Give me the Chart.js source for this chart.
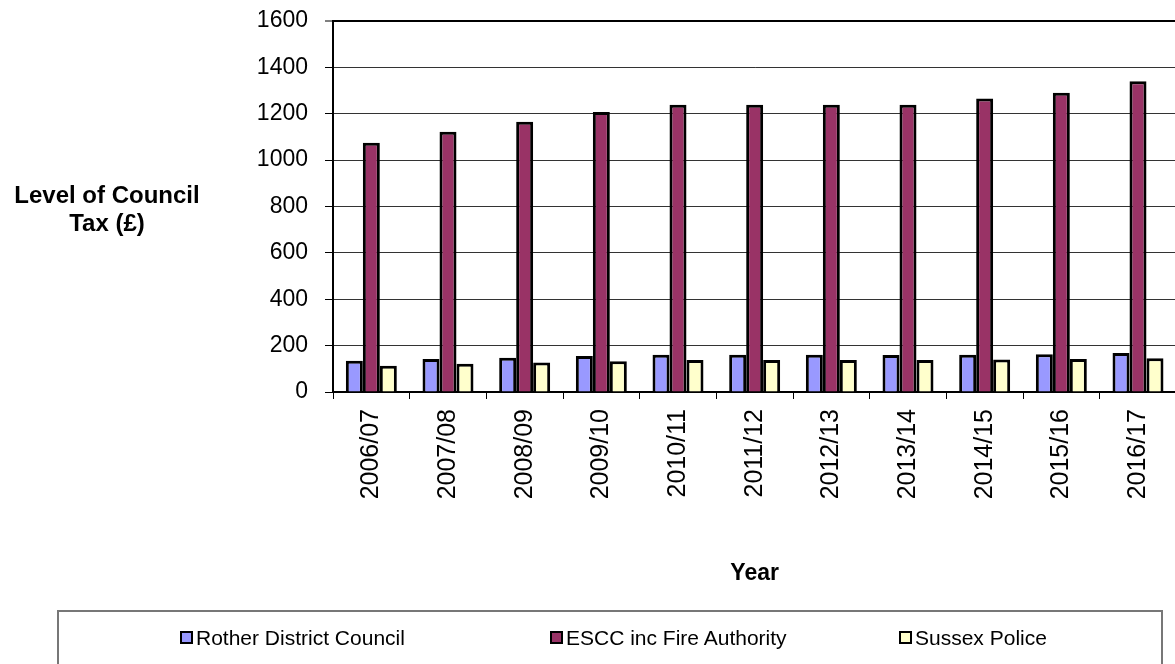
<!DOCTYPE html>
<html>
<head>
<meta charset="utf-8">
<script src="https://cdn.jsdelivr.net/npm/chart.js@4/dist/chart.umd.min.js"></script>
<style>
  body { margin: 0; background: #fff; font-family: Arial, "Liberation Sans", sans-serif; }
  #wrap { position: relative; width: 1175px; height: 664px; overflow: hidden; }
  #grafico { position: absolute; left: 0; top: -10px; }
  #tituloY { position: absolute; left: 0; top: 181px; width: 214px; text-align: center;
    font-weight: bold; font-size: 24px; line-height: 28px; color: #000; }
  #leyenda { position: absolute; left: 57px; top: 610px; width: 1106px; height: 80px;
    border: 2px solid #777; box-sizing: border-box; }
  .item { position: absolute; top: 14px; font-size: 21px; line-height: 24px; color: #000; white-space: nowrap; }
  .item span { display: inline-block; width: 9px; height: 9px; border: 2px solid #000;
    margin-right: 3px; vertical-align: 1px; }
</style>
</head>
<body>
<div id="wrap">
  <canvas id="grafico" width="1178" height="674"></canvas>
  <div id="tituloY">Level of Council<br>Tax (£)</div>
  <div id="leyenda"></div>
</div>
<script>
const años = ["2006/07", "2007/08", "2008/09", "2009/10", "2010/11", "2011/12",
  "2012/13", "2013/14", "2014/15", "2015/16", "2016/17"];
const rother = [135, 142, 148, 155, 161, 161, 161, 160, 161, 163, 168];
const escc = [1074, 1122, 1165, 1207, 1238, 1238, 1238, 1238, 1265, 1290, 1339];
const sussex = [113, 122, 127, 133, 138, 138, 138, 138, 140, 142, 146];
const ticksY = [0, 200, 400, 600, 800, 1000, 1200, 1400, 1600];

const series = [
  { label: "Rother District Council", data: rother, color: "#9999FF", x: 121 },
  { label: "ESCC inc Fire Authority", data: escc, color: "#993366", x: 491 },
  { label: "Sussex Police", data: sussex, color: "#FFFFCC", x: 840 },
];

// leyenda en html
let leyenda = "";
series.forEach((s) => {
  leyenda += `<div class="item" style="left:${s.x}px"><span style="background:${s.color}"></span>${s.label}</div>`;
});
document.getElementById("leyenda").innerHTML = leyenda;

const fuente = "Arial, 'Liberation Sans', sans-serif";

const ctx = document.getElementById("grafico").getContext("2d");
const grafico = new Chart(ctx, {
  type: "bar",
  data: {
    labels: años,
    datasets: series.map((s) => ({
      label: s.label,
      data: s.data,
      backgroundColor: s.color,
      borderColor: "#000",
      borderWidth: 3,
      barPercentage: 1,
      categoryPercentage: 0.665,
    })),
  },
  options: {
    responsive: false,
    animation: false,
    layout: { padding: { top: 8, right: 0, bottom: 0, left: 0 } },
    plugins: { legend: { display: false }, tooltip: { enabled: false } },
    scales: {
      x: {
        offset: true,
        grid: { drawOnChartArea: false, tickLength: 7, tickColor: "#000", tickWidth: 1 },
        border: { color: "#000", width: 2 },
        ticks: {
          minRotation: 90, maxRotation: 90, padding: 10, color: "#000",
          font: { family: fuente, size: 25 },
        },
        title: {
          display: true, text: "Year", color: "#000",
          font: { family: fuente, size: 23, weight: "bold" },
          padding: { top: 0, bottom: 77 },
        },
        afterFit: (scale) => { scale.height = 272; },
      },
      y: {
        min: 0,
        max: 1600,
        afterBuildTicks: (scale) => { scale.ticks = ticksY.map((v) => ({ value: v })); },
        grid: {
          color: (c) => (c.tick && c.tick.value === 1600 ? "#000" : "#333"),
          lineWidth: (c) => (c.tick && c.tick.value === 1600 ? 2 : 1),
          tickLength: 8, tickColor: "#000", tickWidth: 1,
        },
        border: { color: "#000", width: 2 },
        ticks: {
          padding: 17, color: "#000", font: { family: fuente, size: 23 },
          callback: (v) => String(v),
        },
        afterFit: (scale) => { scale.width = 333; },
      },
    },
  },
});
</script>
</body>
</html>
